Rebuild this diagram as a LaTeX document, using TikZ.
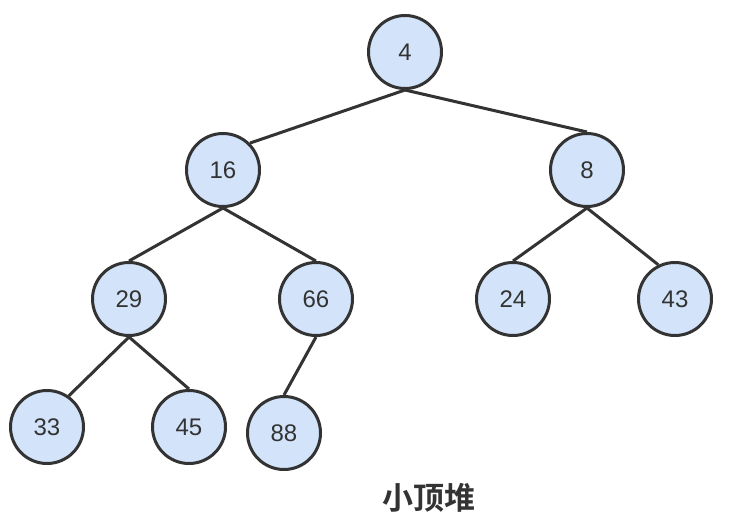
\documentclass[tikz,border=0pt]{standalone}
\usepackage{fontspec}
\setmainfont{Liberation Sans}
\newfontfamily\cjk{Noto Sans CJK SC}[BoldFont={* Bold}]
\definecolor{nodefill}{RGB}{211,228,250}
\definecolor{ink}{RGB}{51,51,51}
\begin{document}
\begin{tikzpicture}[x=1pt,y=-1pt,
  heapnode/.style={circle,draw=ink,fill=nodefill,line width=3pt,minimum size=73pt,inner sep=0pt,text=ink,font=\fontsize{24}{28}\selectfont},
  link/.style={draw=ink,line width=3pt}]
\useasboundingbox (0,0) rectangle (732,522);
\node[heapnode] (n4) at (405,52) {4};
\node[heapnode] (n16) at (223,170) {16};
\node[heapnode] (n8) at (587,170) {8};
\node[heapnode] (n29) at (129,299) {29};
\node[heapnode] (n66) at (316,299) {66};
\node[heapnode] (n24) at (513,299) {24};
\node[heapnode] (n43) at (675,299) {43};
\node[heapnode] (n33) at (47,427) {33};
\node[heapnode] (n45) at (189,427) {45};
\node[heapnode] (n88) at (284,433) {88};
\node[text=ink,font=\cjk\bfseries\fontsize{31}{34}\selectfont] (lbl) at (429,498) {小顶堆};
\draw[link] (n4.south) -- (n16.45);
\draw[link] (n4.south) -- (n8.north);
\draw[link] (n16.south) -- (n29.north);
\draw[link] (n16.south) -- (n66.north);
\draw[link] (n29.south) -- (n33.55);
\draw[link] (n29.south) -- (n45.north);
\draw[link] (n66.south) -- (n88.north);
\draw[link] (n8.south) -- (n24.north);
\draw[link] (n8.south) -- (n43.116);
\end{tikzpicture}
\end{document}
